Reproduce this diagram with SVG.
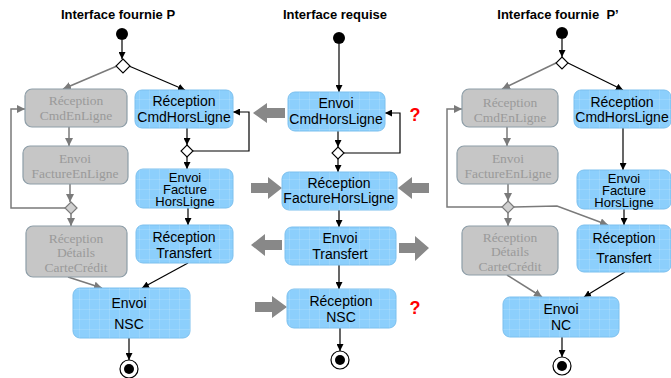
<svg xmlns="http://www.w3.org/2000/svg" width="671" height="378" viewBox="0 0 671 378">
<style>
.title{font-family:"Liberation Sans",Arial,sans-serif;font-size:13px;font-weight:bold;fill:#000;text-anchor:middle;white-space:pre}
.blue rect.b{fill:#8ccffc;stroke:#7cc0ee;stroke-width:1}
.blue rect.g{fill:url(#grid)}
.blue text{font-family:"Liberation Sans",Arial,sans-serif;font-size:14px;fill:#000;text-anchor:middle}
.blue text.s{font-size:13px}
.grey rect{fill:#c6c6c6;stroke:#8e9ea8;stroke-width:1.2}
.grey text{font-family:"Liberation Serif","Times New Roman",serif;font-size:13.5px;fill:#9a9a9a;text-anchor:middle}
.c{fill:none;stroke:#000;stroke-width:1.2}
.cg{fill:none;stroke:#7a7a7a;stroke-width:1.5}
.ab{marker-end:url(#ah)}
.ag{marker-end:url(#ahg)}
.dia{fill:#fff;stroke:#000;stroke-width:1.1}
.diag{fill:#d0d0d0;stroke:#7a7a7a;stroke-width:1.2}
.big{fill:#888}
.q{font-family:"Liberation Sans",Arial,sans-serif;font-size:18px;font-weight:bold;fill:#f00;text-anchor:middle}
</style>
<defs>
<pattern id="grid" width="10" height="10" patternUnits="userSpaceOnUse">
<path d="M10 0V10M0 10H10" fill="none" stroke="#fff" stroke-opacity="0.3" stroke-width="0.8"/>
</pattern>
<marker id="ah" viewBox="0 0 10 10" refX="10" refY="5" markerWidth="7" markerHeight="7" markerUnits="userSpaceOnUse" orient="auto">
<path d="M0 0L10 5L0 10z" fill="#000"/>
</marker>
<marker id="ahg" viewBox="0 0 10 10" refX="10" refY="5" markerWidth="8" markerHeight="8" markerUnits="userSpaceOnUse" orient="auto">
<path d="M0 0L10 5L0 10z" fill="#7a7a7a"/>
</marker>
</defs>
<rect width="671" height="378" fill="#fff"/>

<text class="title" x="118" y="19">Interface fournie P</text>
<text class="title" x="335" y="19">Interface requise</text>
<text class="title" x="558" y="19">Interface fournie  P’</text>

<g id="connectors">
<line class="c ab" x1="122" y1="40" x2="122" y2="59"/>
<line class="cg ag" x1="117" y1="66" x2="63" y2="89"/>
<line class="c ab" x1="129" y1="66" x2="185" y2="90"/>
<line class="cg ag" x1="69" y1="127" x2="69" y2="146"/>
<line class="c ab" x1="187" y1="128" x2="187" y2="145"/>
<line class="c ab" x1="187" y1="157" x2="187" y2="169"/>
<polyline class="c ab" points="193,151 249,151 249,112 233,112"/>
<line class="cg ag" x1="70" y1="184" x2="70" y2="202"/>
<polyline class="cg ag" points="65,208 11,208 11,109 25,109"/>
<line class="cg ag" x1="71" y1="214" x2="71" y2="226"/>
<line class="c ab" x1="188" y1="208" x2="188" y2="225"/>
<line class="cg ag" x1="68" y1="277" x2="102" y2="288"/>
<line class="c ab" x1="188" y1="263" x2="142" y2="288"/>
<line class="c ab" x1="129" y1="338" x2="129" y2="360"/>
<line class="c ab" x1="339" y1="44" x2="339" y2="92"/>
<line class="c ab" x1="338" y1="131" x2="338" y2="147"/>
<line class="c ab" x1="338" y1="159" x2="338" y2="172"/>
<polyline class="c ab" points="344,153 400,153 400,113 385,113"/>
<line class="c ab" x1="339" y1="210" x2="339" y2="227"/>
<line class="c ab" x1="339" y1="265" x2="339" y2="289"/>
<line class="c ab" x1="340" y1="328" x2="340" y2="351"/>
<line class="c ab" x1="562" y1="39" x2="562" y2="57"/>
<line class="cg ag" x1="556" y1="63" x2="502" y2="89"/>
<line class="c ab" x1="568" y1="63" x2="623" y2="90"/>
<line class="cg ag" x1="507" y1="127" x2="507" y2="146"/>
<line class="c ab" x1="623" y1="128" x2="623" y2="170"/>
<line class="cg ag" x1="508" y1="184" x2="508" y2="201"/>
<polyline class="cg ag" points="502,207 447,207 447,109 462,109"/>
<polyline class="cg ag" points="514,207 557,206 608,225"/>
<line class="cg ag" x1="508" y1="213" x2="508" y2="226"/>
<line class="c ab" x1="624" y1="209" x2="624" y2="225"/>
<line class="cg ag" x1="507" y1="275" x2="542" y2="297"/>
<line class="c ab" x1="625" y1="272" x2="584" y2="297"/>
<line class="c ab" x1="562" y1="337" x2="562" y2="357"/>
</g>

<g id="bigarrows">
<polygon class="big" points="253,113 267,103 267,108 285,108 285,118 267,118 267,123"/>
<polygon class="big" points="251,183 268,183 268,177 282,188 268,199 268,193 251,193"/>
<polygon class="big" points="398,188 412,177 412,183 429,183 429,193 412,193 412,199"/>
<polygon class="big" points="251,245 265,234 265,240 282,240 282,250 265,250 265,256"/>
<polygon class="big" points="399,243 415,243 415,236 429,248 415,261 415,253 399,253"/>
<polygon class="big" points="255,302 272,302 272,296 287,307 272,318 272,312 255,312"/>
</g>

<text class="q" x="415" y="121">?</text>
<text class="q" x="415" y="314">?</text>

<g id="start-P"><circle cx="122" cy="34" r="6" fill="#000"/></g>
<g id="start-R"><circle cx="339" cy="38" r="6" fill="#000"/></g>
<g id="start-P2"><circle cx="562" cy="33" r="6" fill="#000"/></g>
<g id="dec-P1"><polygon class="dia" points="123,59 130,66 123,73 116,66"/></g>
<g id="dec-P2"><polygon class="dia" points="187,145 193,151 187,157 181,151"/></g>
<g id="dec-P3"><polygon class="diag" points="71,202 77,208 71,214 65,208"/></g>
<g id="dec-R1"><polygon class="dia" points="338,147 344,153 338,159 332,153"/></g>
<g id="dec-Q1"><polygon class="dia" points="562,57 568,63 562,69 556,63"/></g>
<g id="dec-Q2"><polygon class="diag" points="508,201 514,207 508,213 502,207"/></g>
<g id="end-P"><circle cx="129" cy="369" r="9" fill="#fff" stroke="#000" stroke-width="1.2"/><circle cx="129" cy="369" r="5" fill="#000"/></g>
<g id="end-R"><circle cx="340" cy="360" r="9" fill="#fff" stroke="#000" stroke-width="1.2"/><circle cx="340" cy="360" r="5" fill="#000"/></g>
<g id="end-P2"><circle cx="562" cy="366" r="9" fill="#fff" stroke="#000" stroke-width="1.2"/><circle cx="562" cy="366" r="5" fill="#000"/></g>

<g id="P-recCmdEnLigne" class="grey"><rect x="25" y="89" width="102" height="38" rx="7"/><text x="76" y="105">Réception</text><text x="76" y="120">CmdEnLigne</text></g>
<g id="P-envFactEnLigne" class="grey"><rect x="23" y="146" width="105" height="38" rx="7"/><text x="75" y="163">Envoi</text><text x="75" y="178">FactureEnLigne</text></g>
<g id="P-recDetails" class="grey"><rect x="26" y="226" width="101" height="51" rx="7"/><text x="76" y="243">Réception</text><text x="76" y="257">Détails</text><text x="76" y="272">CarteCrédit</text></g>
<g id="P-recCmdHorsLigne" class="blue"><rect class="b" x="135" y="90" width="98" height="38" rx="7"/><rect class="g" x="135" y="90" width="98" height="38" rx="7"/><text x="184" y="106">Réception</text><text x="184" y="122">CmdHorsLigne</text></g>
<g id="P-envFactHorsLigne" class="blue"><rect class="b" x="136" y="169" width="97" height="39" rx="7"/><rect class="g" x="136" y="169" width="97" height="39" rx="7"/><text class="s" x="185" y="182">Envoi</text><text class="s" x="185" y="194">Facture</text><text class="s" x="185" y="206">HorsLigne</text></g>
<g id="P-recTransfert" class="blue"><rect class="b" x="136" y="225" width="97" height="38" rx="7"/><rect class="g" x="136" y="225" width="97" height="38" rx="7"/><text x="184" y="242">Réception</text><text x="184" y="258">Transfert</text></g>
<g id="P-envNSC" class="blue"><rect class="b" x="73" y="288" width="117" height="50" rx="7"/><rect class="g" x="73" y="288" width="117" height="50" rx="7"/><text x="129" y="308">Envoi</text><text x="129" y="329">NSC</text></g>

<g id="R-envCmdHorsLigne" class="blue"><rect class="b" x="288" y="92" width="97" height="39" rx="7"/><rect class="g" x="288" y="92" width="97" height="39" rx="7"/><text x="336" y="108">Envoi</text><text x="336" y="124">CmdHorsLigne</text></g>
<g id="R-recFactHorsLigne" class="blue"><rect class="b" x="282" y="172" width="115" height="38" rx="7"/><rect class="g" x="282" y="172" width="115" height="38" rx="7"/><text x="339" y="188">Réception</text><text x="339" y="203">FactureHorsLigne</text></g>
<g id="R-envTransfert" class="blue"><rect class="b" x="285" y="227" width="111" height="38" rx="7"/><rect class="g" x="285" y="227" width="111" height="38" rx="7"/><text x="340" y="243">Envoi</text><text x="340" y="259">Transfert</text></g>
<g id="R-recNSC" class="blue"><rect class="b" x="287" y="289" width="109" height="39" rx="7"/><rect class="g" x="287" y="289" width="109" height="39" rx="7"/><text x="341" y="306">Réception</text><text x="341" y="322">NSC</text></g>

<g id="Q-recCmdEnLigne" class="grey"><rect x="462" y="89" width="96" height="38" rx="7"/><text x="510" y="107">Réception</text><text x="510" y="122">CmdEnLigne</text></g>
<g id="Q-envFactEnLigne" class="grey"><rect x="457" y="146" width="101" height="38" rx="7"/><text x="508" y="163">Envoi</text><text x="508" y="178">FactureEnLigne</text></g>
<g id="Q-recDetails" class="grey"><rect x="462" y="226" width="96" height="49" rx="7"/><text x="510" y="242">Réception</text><text x="510" y="256">Détails</text><text x="510" y="271">CarteCrédit</text></g>
<g id="Q-recCmdHorsLigne" class="blue"><rect class="b" x="574" y="90" width="97" height="38" rx="7"/><rect class="g" x="574" y="90" width="97" height="38" rx="7"/><text x="622" y="107">Réception</text><text x="622" y="122">CmdHorsLigne</text></g>
<g id="Q-envFactHorsLigne" class="blue"><rect class="b" x="577" y="170" width="94" height="39" rx="7"/><rect class="g" x="577" y="170" width="94" height="39" rx="7"/><text class="s" x="624" y="183">Envoi</text><text class="s" x="624" y="195">Facture</text><text class="s" x="624" y="207">HorsLigne</text></g>
<g id="Q-recTransfert" class="blue"><rect class="b" x="577" y="225" width="94" height="47" rx="7"/><rect class="g" x="577" y="225" width="94" height="47" rx="7"/><text x="624" y="243">Réception</text><text x="624" y="263">Transfert</text></g>
<g id="Q-envNC" class="blue"><rect class="b" x="503" y="297" width="116" height="40" rx="7"/><rect class="g" x="503" y="297" width="116" height="40" rx="7"/><text x="561" y="314">Envoi</text><text x="561" y="330">NC</text></g>
</svg>
